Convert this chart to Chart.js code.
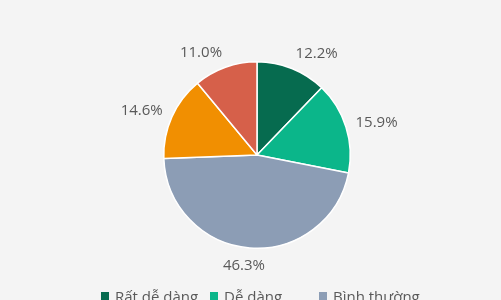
<!DOCTYPE html>
<html>
<head>
<meta charset="utf-8">
<script src="https://cdn.jsdelivr.net/npm/chart.js@4/dist/chart.umd.min.js"></script>
<style>
  html, body { margin:0; padding:0; background:#f4f4f4; overflow:hidden; }
  #wrap { position:relative; width:501px; height:300px; background:#f4f4f4; overflow:hidden; }
  #legend { position:absolute; left:101px; top:286px; width:330px; display:flex; flex-wrap:wrap;
            font-family:"Open Sans", sans-serif; font-size:15px; color:#595959; }
  .item { width:109px; height:20px; display:flex; align-items:center; white-space:nowrap; }
  .sw { width:8px; height:8px; margin-right:6px; flex:none; }
</style>
</head>
<body>
<div id="wrap">
  <canvas id="c" width="501" height="300"></canvas>
  <div id="legend"></div>
</div>
<script>
const categories = ["Rất dễ dàng", "Dễ dàng", "Bình thường", "Khó khăn", "Rất khó khăn"];
const values = [12.2, 15.9, 46.3, 14.6, 11.0];
const colors = ["#066b4f", "#0bb68a", "#8c9db5", "#f18f01", "#d6604a"];

const labelPlugin = {
  id: 'outLabels',
  afterDatasetsDraw(chart) {
    const ctx = chart.ctx;
    const meta = chart.getDatasetMeta(0);
    ctx.save();
    ctx.font = '15px "Open Sans", sans-serif';
    ctx.fillStyle = '#595959';
    ctx.textAlign = 'left';
    ctx.textBaseline = 'middle';
    const h = 14, d = 10;
    const clamp = v => Math.max(0, Math.min(1, v));
    meta.data.forEach((arc, i) => {
      const p = arc.getProps(['x', 'y', 'startAngle', 'endAngle', 'outerRadius'], true);
      const mid = (p.startAngle + p.endAngle) / 2;
      const dx = Math.cos(mid), dy = Math.sin(mid);
      const px = p.x + (p.outerRadius + d) * dx;
      const py = p.y + (p.outerRadius + d) * dy;
      const txt = values[i].toFixed(1) + '%';
      const w = ctx.measureText(txt).width;
      const xl = px - w * clamp((1 - 3 * dx) / 2);
      const yt = py - h * clamp((1 - dy) / 2);
      ctx.fillText(txt, xl, yt + h / 2 + 1);
    });
    ctx.restore();
  }
};

new Chart(document.getElementById('c'), {
  type: 'pie',
  data: {
    labels: categories,
    datasets: [{
      data: values,
      backgroundColor: colors,
      borderColor: '#ffffff',
      borderWidth: 1.5
    }]
  },
  options: {
    responsive: false,
    animation: false,
    layout: { padding: { left: 163, right: 150, top: 61, bottom: 51 } },
    plugins: { legend: { display: false }, tooltip: { enabled: false } }
  },
  plugins: [labelPlugin]
});

const lg = document.getElementById('legend');
categories.forEach((c, i) => {
  const it = document.createElement('div');
  it.className = 'item';
  const sw = document.createElement('span');
  sw.className = 'sw';
  sw.style.background = colors[i];
  const t = document.createElement('span');
  t.textContent = c;
  it.appendChild(sw); it.appendChild(t);
  lg.appendChild(it);
});
</script>
</body>
</html>
